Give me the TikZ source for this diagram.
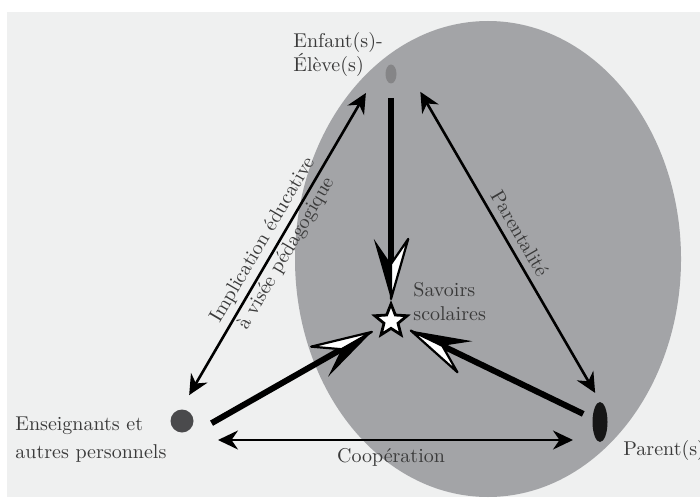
\documentclass[tikz,border=0pt]{standalone}
\usetikzlibrary{arrows.meta,shapes.geometric,calc}
\definecolor{fond}{HTML}{EFF0F0}
\definecolor{bulle}{HTML}{A3A4A7}
\definecolor{texte}{HTML}{3A3A3A}
\definecolor{eleve}{HTML}{858587}
\definecolor{ensei}{HTML}{4A4A4C}
\definecolor{parent}{HTML}{161616}
\tikzstyle{acteur}=[draw=none,inner sep=0pt]
\tikzstyle{etiq}=[text=texte,inner sep=0pt,anchor=north west,align=left]
\tikzstyle{mot}=[text=texte]
\tikzstyle{lien}=[line width=1.3pt,arrows={Stealth[length=10pt,width=9.5pt]-Stealth[length=10pt,width=9.5pt]}]
\tikzstyle{apport}=[line width=3pt,shorten >=17pt]

% fleche epaisse vers les savoirs, pointe mi-noire mi-blanche
\newcommand\savoirarrow[2][]{%
  \draw[apport,#1] (#2) -- (S);
  \coordinate (tip) at ($(S)!11pt!(#2)$);
  \coordinate (notch) at ($(tip)!17.5pt!(#2)$);
  \fill (tip) -- ($(tip)!31.25pt!16:(#2)$) -- (notch) -- cycle;
  \filldraw[fill=white,line width=1.1pt,line join=round] (tip) -- ($(tip)!31.25pt!-16:(#2)$) -- (notch) -- cycle;
}

\begin{document}
\begin{tikzpicture}[x=0.5pt,y=-0.5pt]
\useasboundingbox (0,0) rectangle (700,497);
\fill[fond] (7,12) rectangle (700,497);
\fill[bulle] (488,259) ellipse [x radius=96.5pt, y radius=119pt];

% les acteurs
\node[acteur,ellipse,fill=eleve,minimum width=5.5pt,minimum height=9.5pt] (E) at (391,74) {};
\node[acteur,circle,fill=ensei,minimum size=11.5pt] (T) at (182,421) {};
\node[acteur,ellipse,fill=parent,minimum width=7.5pt,minimum height=20pt] (P) at (600,422) {};
\node[acteur,circle,minimum size=22pt] (S) at (391,321) {};
\coordinate (Tb) at ($(T)+(0,19)$);
\coordinate (Pb) at ($(P)+(0,18)$);

\node[etiq] (Elab) at (293,32) {Enfant(s)-\\Élève(s)};
\node[etiq] (Tlab) at (15,416) {Enseignants et\\[2pt]autres personnels};
\node[etiq] (Plab) at (623,440) {Parent(s)};
\node[etiq] (Slab) at (413,282) {Savoirs\\scolaires};

% les relations
\draw[lien,shorten <=15pt,shorten >=11pt] ([xshift=-4pt]T.center) -- ([xshift=-7pt]E.center)
  node[mot,midway,sloped,align=center,yshift=0.5pt] {Implication éducative\\[1.5pt]à visée pédagogique};
\draw[lien,shorten <=10.3pt,shorten >=16.8pt] ([xshift=9.5pt]E.center) -- ([xshift=6pt]P.center)
  node[mot,pos=0.48,sloped,above] {Parentalité};
\draw[lien,shorten <=18pt,shorten >=13.5pt] (Tb) -- (Pb)
  node[mot,midway,below] {Coopération};

% vers les savoirs
\savoirarrow[shorten <=7pt]{E}
\savoirarrow[shorten <=17pt]{Tb}
\savoirarrow[shorten <=5pt]{P}
\node[star,star points=5,star point ratio=2.3,minimum size=17pt,inner sep=0pt,draw,fill=white,line width=1.4pt] (etoile) at (S) {};

\end{tikzpicture}
\end{document}
